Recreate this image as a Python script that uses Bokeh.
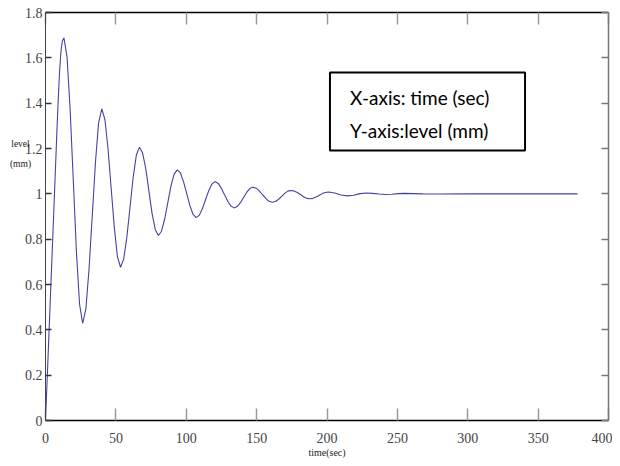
from bokeh.plotting import figure
from bokeh.models import Range1d, LinearAxis, FixedTicker, CustomJSTickFormatter, Label, BoxAnnotation
from bokeh.embed import file_html
from bokeh.resources import INLINE

# values
time = [0, 2, 4, 6, 8, 9, 10, 11, 12, 13.1,
        15.3, 17.5, 19.75, 21.97, 24.2, 26.4,
        28.7, 30.9, 33.2, 35.5, 37.7, 40.0,
        42.2, 44.4, 46.65, 48.9, 51.1, 53.3,
        55.55, 57.8, 60.05, 62.3, 64.55, 66.8,
        69.0, 71.3, 73.5, 75.7, 78.0, 80.2,
        82.4, 84.7, 86.9, 89.1, 91.4, 93.6,
        95.85, 98.1, 100.35, 102.6, 104.85, 107.1,
        109.3, 111.5, 113.75, 116.0, 118.2, 120.4,
        122.7, 124.9, 127.2, 129.5, 131.7, 134.0,
        136.2, 138.5, 140.7, 142.9, 145.2, 147.4,
        149.7, 151.9, 154.2, 156.5, 158.7, 161.2,
        163.4, 165.6, 167.8, 170.0, 172.2, 174.4,
        176.6, 178.9, 181.1, 183.3, 185.6, 187.8,
        190.0, 192.2, 194.4, 196.6, 198.8, 201.0,
        205.5, 210.0, 214.5, 219.0, 223.5, 228.0,
        232.5, 237.0, 241.5, 246.0, 250.5, 255.0,
        268, 280, 300, 320, 350, 378]
level = [0, 0.31, 0.625, 0.94, 1.26, 1.41, 1.54, 1.63, 1.675, 1.688,
         1.604, 1.373, 1.059, 0.744, 0.513, 0.429,
         0.492, 0.666, 0.902, 1.139, 1.312, 1.375,
         1.328, 1.200, 1.026, 0.851, 0.723, 0.676,
         0.712, 0.809, 0.941, 1.074, 1.171, 1.206,
         1.180, 1.109, 1.011, 0.914, 0.842, 0.816,
         0.835, 0.889, 0.961, 1.034, 1.087, 1.106,
         1.092, 1.053, 1.001, 0.948, 0.909, 0.895,
         0.906, 0.935, 0.975, 1.014, 1.043, 1.054,
         1.046, 1.025, 0.996, 0.967, 0.946, 0.938,
         0.944, 0.961, 0.984, 1.006, 1.023, 1.029,
         1.025, 1.013, 0.996, 0.980, 0.967, 0.963,
         0.966, 0.976, 0.989, 1.002, 1.012, 1.015,
         1.013, 1.006, 0.997, 0.987, 0.980, 0.978,
         0.980, 0.986, 0.993, 1.001, 1.006, 1.008,
         1.004, 0.995, 0.991, 0.994, 1.001, 1.004,
         1.002, 0.999, 0.997, 0.998, 1.001, 1.002,
         1.0, 0.999, 1.0, 1.0, 1.0, 1.0]
x_ticks = [0, 50, 100, 150, 200, 250, 300, 350, 400]
y_ticks = [0, 0.2, 0.4, 0.6, 0.8, 1.0, 1.2, 1.4, 1.6, 1.8]
note_lines = ["X-axis: time (sec)", "Y-axis:level (mm)"]
y_caption = "level\n(mm)"

p = figure(frame_width=563, frame_height=408,
           x_range=Range1d(0, 400), y_range=Range1d(0, 1.8),
           output_backend="svg", toolbar_location=None,
           min_border_left=45, min_border_right=4, min_border_top=12, min_border_bottom=44,
           background_fill_color="white", border_fill_color="white")
p.outline_line_color = None
p.grid.visible = False

num_fmt = CustomJSTickFormatter(code="return String(Math.round(tick*10)/10);")
TICK_FONT = "Liberation Serif"

bx = p.below[0]
bx.ticker = FixedTicker(ticks=x_ticks)
bx.formatter = num_fmt
bx.axis_line_color = "black"
bx.axis_line_width = 1.6
bx.major_tick_in = 12
bx.major_tick_out = 0
bx.major_tick_line_color = "#9a9a9a"
bx.major_tick_line_width = 1.5
bx.minor_tick_line_color = None
bx.major_label_text_font = TICK_FONT
bx.major_label_text_font_size = "14px"
bx.major_label_text_color = "#444444"
bx.major_label_standoff = 12
bx.axis_label = "time(sec)"
bx.axis_label_text_font = TICK_FONT
bx.axis_label_text_font_size = "10px"
bx.axis_label_text_font_style = "normal"
bx.axis_label_text_color = "#222222"
bx.axis_label_standoff = 1

ly = p.left[0]
ly.ticker = FixedTicker(ticks=y_ticks)
ly.formatter = num_fmt
ly.axis_line_color = "#444444"
ly.axis_line_width = 1
ly.major_tick_in = 6
ly.major_tick_out = 0
ly.major_tick_line_color = "#333333"
ly.major_tick_line_width = 1.3
ly.minor_tick_line_color = None
ly.major_label_text_font = TICK_FONT
ly.major_label_text_font_size = "14px"
ly.major_label_text_color = "#444444"
ly.major_label_standoff = 3

blank = CustomJSTickFormatter(code="return '';")
top = LinearAxis(ticker=FixedTicker(ticks=x_ticks), formatter=blank,
                 major_tick_in=12, major_tick_out=0, major_label_standoff=0,
                 axis_line_color="black", axis_line_width=1.6,
                 major_tick_line_color="#9a9a9a", major_tick_line_width=1.5,
                 minor_tick_line_color=None, major_label_text_font_size="1px")
p.add_layout(top, "above")
rgt = LinearAxis(ticker=FixedTicker(ticks=y_ticks), formatter=blank,
                 major_tick_in=7, major_tick_out=0, major_label_standoff=0,
                 axis_line_color="#777777", axis_line_width=1.5,
                 major_tick_line_color="#777777", major_tick_line_width=1.3,
                 minor_tick_line_color=None, major_label_text_font_size="1px")
p.add_layout(rgt, "right")

p.line(time, level, line_color="#4343a3", line_width=1.1)

# y-axis caption, placed in the left side panel (two lines)
p.add_layout(Label(x=20, y=267, x_units="screen", y_units="screen", text=y_caption,
                   text_align="center", text_baseline="middle", text_line_height=2.0,
                   text_font=TICK_FONT, text_font_size="9.5px", text_color="#222222"), "left")

p.add_layout(BoxAnnotation(left=202.1, right=340.7, top=1.535, bottom=1.191,
                           fill_color="white", fill_alpha=1.0,
                           line_color="black", line_alpha=1.0, line_width=2))
p.add_layout(Label(x=216.4, y=1.425, text=note_lines[0], text_baseline="middle",
                   text_font="Lato", text_font_size="19px", text_color="black"))
p.add_layout(Label(x=216.4, y=1.28, text=note_lines[1], text_baseline="middle",
                   text_font="Lato", text_font_size="19px", text_color="black"))

open("out.html", "w").write(file_html(p, INLINE))
